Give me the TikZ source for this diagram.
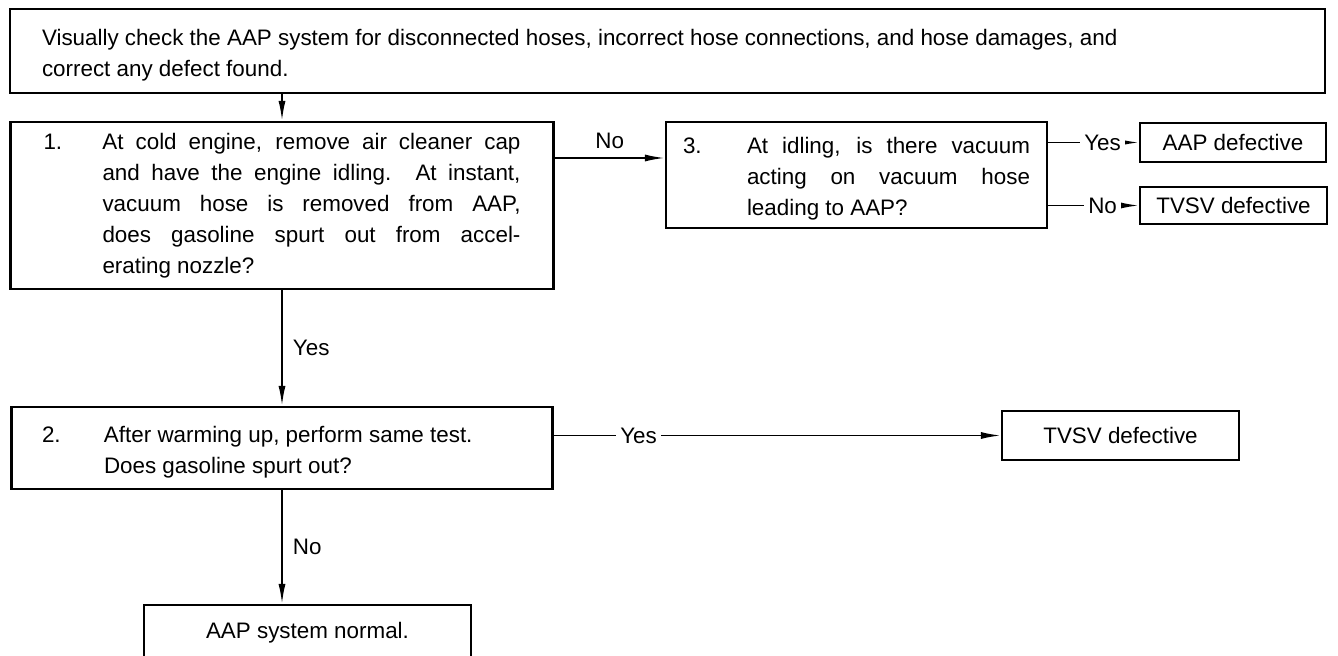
\documentclass[tikz,border=0pt]{standalone}
\usepackage{fontspec}
\setmainfont{Liberation Sans}
\usetikzlibrary{arrows.meta}

\newcommand{\lowtext}[1]{\raisebox{0pt}[\height][\dimexpr\depth-4pt\relax]{#1}}

\begin{document}
\begin{tikzpicture}[x=0.5pt,y=-0.5pt,
  every node/.style={font=\fontsize{11.2}{15.5}\selectfont},
  box/.style={draw,line width=1.1pt,inner sep=0pt},
  link/.style={line width=0.9pt,-{Latex[length=10pt,width=3.5pt]}},
  tag/.style={inner sep=2pt},
  gap/.style={fill=white,inner xsep=2pt,inner ysep=1pt}]
          \useasboundingbox (0,0) rectangle (1338,656);

          % boxes
          \node[box,minimum width=657.5pt,minimum height=42pt] (check) at (667.5,51)
            {\lowtext{\parbox{625.5pt}{\raggedright Visually check the AAP system for disconnected hoses, incorrect hose connections, and hose damages, and\\ correct any defect found.}}};
          \node[box,minimum width=271.5pt,minimum height=83.5pt] (q1) at (282,205.5)
            {\makebox[29.5pt][l]{1.}\parbox[t]{209pt}{At cold engine, remove air cleaner cap\linebreak and have the engine idling. At instant,\linebreak vacuum hose is removed from AAP,\linebreak does gasoline spurt out from accel-\linebreak erating nozzle?}};
          \node[box,minimum width=190.5pt,minimum height=53pt] (q3) at (856.5,175)
            {\lowtext{\makebox[32pt][l]{3.}\parbox[t]{141.5pt}{At idling, is there vacuum\linebreak acting on vacuum hose\linebreak leading to AAP?}}};
          \node[box,minimum width=270.5pt,minimum height=41pt] (q2) at (282,448)
            {\lowtext{\makebox[31pt][l]{2.}\parbox[t]{209pt}{\raggedright After warming up, perform same test.\\ Does gasoline spurt out?}}};
          \node[box,minimum width=93pt,minimum height=19.5pt] (aap) at (1233,142.5) {AAP defective};
          \node[box,minimum width=93.5pt,minimum height=18.5pt] (tv1) at (1233.5,205.5) {TVSV defective};
          \node[box,minimum width=118.5pt,minimum height=24.5pt] (tv2) at (1120.5,435.5) {TVSV defective};
          \node[box,anchor=north,minimum width=163.5pt,text height=16.5pt,text depth=20pt] (sys) at (307.5,604) {AAP system normal.};

          % connectors
          \coordinate (no1) at (610,158);
          \draw[link] (check.south -| q1.north) -- (q1.north);
          \draw[link] (q1.east |- no1) -- node[tag,above=2pt]{No} (q3.west |- no1);
          \draw[link] (q3.east |- aap.west) -- node[gap,pos=0.6]{Yes} (aap.west);
          \draw[link] (q3.east |- tv1.west) -- node[gap,pos=0.6]{No} (tv1.west);
          \draw[link] (q1.south) -- node[tag,right=3pt]{Yes} (q1.south |- q2.north);
          \draw[link] (q2.east |- tv2.west) -- node[gap,pos=0.19]{Yes} (tv2.west);
          \draw[link] (q2.south) -- node[tag,right=3pt]{No} (q2.south |- sys.north);

\end{tikzpicture}
\end{document}
